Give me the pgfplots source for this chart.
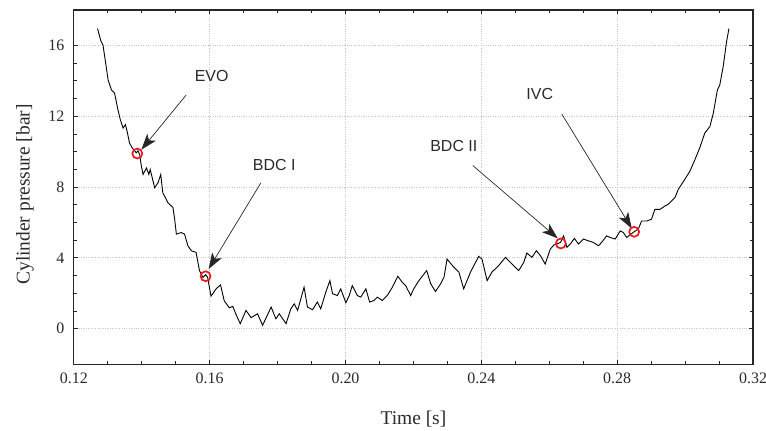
\documentclass[border=0pt]{standalone}
\usepackage{pgfplots}
\pgfplotsset{compat=1.18}
\usepackage{fontspec}
\setmainfont{Liberation Serif}
\newfontfamily\annfont{Liberation Sans}
\usetikzlibrary{arrows.meta}

\definecolor{txt}{HTML}{2A2A2A}
\definecolor{gridc}{HTML}{C4C4C4}
\definecolor{mk}{HTML}{E8191F}

\pgfplotstableread{
t p
0.1270 16.95
0.1279 16.29
0.1286 16.01
0.1294 14.98
0.1301 14.04
0.1311 13.48
0.1320 13.30
0.1330 12.36
0.1337 11.80
0.1345 11.33
0.1352 11.52
0.1357 11.14
0.1364 10.49
0.1372 10.21
0.1384 9.93
0.1389 10.05
0.1394 9.83
0.1399 9.17
0.1404 8.71
0.1414 9.08
0.1421 8.71
0.1425 8.99
0.1438 7.96
0.1448 8.24
0.1456 8.71
0.1462 7.68
0.1477 7.12
0.1492 6.84
0.1497 6.18
0.1502 5.34
0.1516 5.43
0.1526 5.34
0.1536 4.68
0.1546 4.40
0.1560 4.31
0.1570 3.28
0.1580 2.90
0.1588 3.05
0.1594 2.90
0.1604 1.83
0.1619 2.25
0.1632 2.47
0.1643 1.57
0.1658 1.18
0.1668 1.26
0.1678 0.79
0.1690 0.28
0.1707 1.03
0.1722 0.62
0.1741 0.84
0.1756 0.19
0.1781 1.22
0.1795 0.56
0.1805 0.84
0.1825 0.28
0.1839 1.12
0.1849 1.40
0.1859 1.03
0.1878 2.34
0.1888 1.22
0.1903 1.07
0.1917 1.50
0.1927 1.12
0.1942 2.06
0.1954 2.71
0.1962 1.97
0.1976 1.87
0.1986 2.25
0.2001 1.46
0.2011 1.87
0.2020 2.43
0.2035 1.87
0.2045 1.78
0.2060 2.25
0.2071 1.50
0.2084 1.59
0.2094 1.78
0.2108 1.59
0.2123 1.87
0.2138 2.34
0.2154 2.96
0.2167 2.62
0.2177 2.43
0.2192 1.87
0.2201 2.25
0.2216 2.71
0.2239 3.28
0.2251 2.53
0.2265 2.10
0.2280 2.53
0.2290 2.90
0.2299 3.93
0.2319 3.47
0.2334 3.19
0.2348 2.25
0.2368 3.19
0.2392 4.08
0.2402 3.93
0.2417 2.71
0.2431 3.19
0.2451 3.56
0.2471 4.03
0.2485 3.75
0.2495 3.56
0.2510 3.28
0.2525 3.75
0.2534 4.27
0.2549 4.03
0.2562 4.40
0.2574 4.12
0.2588 3.65
0.2603 4.49
0.2613 4.72
0.2622 4.78
0.2633 4.87
0.2642 5.24
0.2652 4.59
0.2662 4.78
0.2674 5.10
0.2686 4.78
0.2701 5.06
0.2715 4.96
0.2730 4.87
0.2745 4.68
0.2754 4.87
0.2769 5.24
0.2779 5.15
0.2794 5.06
0.2809 5.52
0.2818 5.43
0.2828 5.15
0.2848 5.45
0.2862 5.62
0.2872 6.08
0.2887 6.08
0.2901 6.18
0.2911 6.74
0.2926 6.74
0.2941 6.93
0.2950 7.02
0.2970 7.40
0.2980 7.87
0.2999 8.43
0.3014 8.89
0.3029 9.55
0.3043 10.21
0.3058 11.05
0.3073 11.42
0.3083 12.17
0.3095 13.48
0.3102 13.76
0.3112 14.79
0.3122 16.20
0.3129 16.95
}\pressure

\pgfplotstableread{
t p
0.1387 9.89
0.1588 2.96
0.2634 4.81
0.2850 5.47
}\events

\begin{document}
\begin{tikzpicture}
\useasboundingbox (-74pt,-67pt) rectangle (694pt,365pt);
\begin{axis}[
  at={(0,0)}, anchor=south west,
  scale only axis,
  width=681pt, height=355pt,
  xmin=0.12, xmax=0.32,
  ymin=-2, ymax=18,
  xtick={0.12,0.16,0.20,0.24,0.28,0.32},
  xticklabels={0.12,0.16,0.20,0.24,0.28,0.32},
  ytick={0,4,8,12,16},
  minor x tick num=3,
  minor y tick num=3,
  tick align=inside,
  major tick length=4pt,
  minor tick length=3pt,
  axis line style={black!85, line width=1.1pt},
  every tick/.style={black!85, line width=0.8pt},
  grid=major,
  major grid style={gridc, dotted, line width=0.9pt},
  /pgf/number format/assume math mode=true,
  ticklabel style={font=\fontsize{16}{18}\selectfont, text=txt},
  yticklabel style={xshift=-6pt},
  xticklabel style={yshift=-5pt},
  xlabel={Time [s]},
  ylabel={Cylinder pressure [bar]},
  label style={font=\fontsize{19.5}{22}\selectfont, text=txt},
  xlabel style={at={(axis description cs:0.5,0)}, anchor=center, yshift=-55pt},
  ylabel style={at={(axis description cs:0,0.479)}, anchor=center, yshift=49pt},
]
\addplot[black, line width=0.9pt, mark=none] table[x=t, y=p] {\pressure};
\addplot[only marks, mark=o, mark size=5pt, mk, line width=1.7pt] table[x=t, y=p] {\events};

\begin{scope}[every node/.style={font=\annfont\fontsize{16}{18}\selectfont, text=txt}]
\node at (axis cs:0.1606,14.27) {EVO};
\node at (axis cs:0.1790,9.23) {BDC I};
\node at (axis cs:0.2319,10.30) {BDC II};
\node at (axis cs:0.2572,13.26) {IVC};
\end{scope}
\begin{scope}[black!85, line width=0.7pt, -{Stealth[length=16pt,width=11pt,inset=4pt]}]
\draw (axis cs:0.1531,13.20) -- (axis cs:0.1399,10.11);
\draw (axis cs:0.1751,8.24) -- (axis cs:0.1597,3.37);
\draw (axis cs:0.2375,9.21) -- (axis cs:0.2625,5.10);
\draw (axis cs:0.2637,12.12) -- (axis cs:0.2843,5.66);
\end{scope}
\end{axis}
\end{tikzpicture}
\end{document}
